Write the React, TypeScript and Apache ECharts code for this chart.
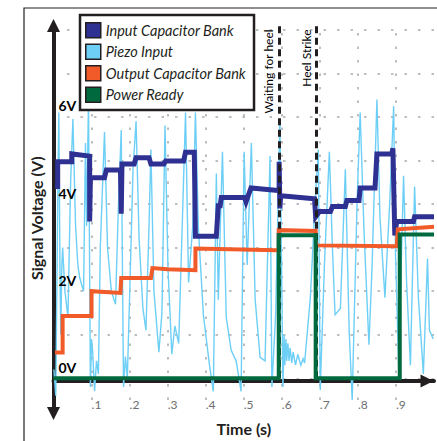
import React, { useEffect, useRef } from 'react';
import * as echarts from 'echarts';

const seriesNames = ['Input Capacitor Bank', 'Piezo Input', 'Output Capacitor Bank', 'Power Ready'];
const seriesColors = ['#2e3192', '#6dcff6', '#f15a29', '#00693e'];

const xTickValues = [0.1, 0.2, 0.3, 0.4, 0.5, 0.6, 0.7, 0.8, 0.9];
const xTickLabels = ['.1', '.2', '.3', '.4', '.5', '.6', '.7', '.8', '.9'];
const yTickValues = [0, 2, 4, 6];
const yTickLabels = ['0V', '2V', '4V', '6V'];

const eventTimes = [0.592, 0.69];
const eventLabels = ['Waiting for heel', 'Heel Strike'];

// [time (s), voltage (V)]
const inputCapacitorBank: [number, number][] = [
  [0.004, 4.4], [0.011, 4.4], [0.011, 4.97], [0.048, 4.97], [0.048, 5.15], [0.095, 5.1],
  [0.095, 3.6], [0.097, 4.6], [0.134, 4.6], [0.139, 4.78], [0.176, 4.78], [0.178, 3.78],
  [0.18, 4.92], [0.212, 4.92], [0.217, 5.06], [0.251, 5.06], [0.256, 4.92], [0.29, 4.92],
  [0.295, 4.99], [0.342, 4.99], [0.347, 5.19], [0.37, 5.19], [0.373, 3.26], [0.428, 3.26],
  [0.433, 3.96], [0.438, 3.96], [0.441, 4.15], [0.502, 4.15], [0.506, 4.05], [0.51, 4.15],
  [0.519, 4.37], [0.59, 4.31], [0.593, 4.31], [0.593, 4.97], [0.595, 3.9], [0.597, 4.19],
  [0.686, 4.12], [0.689, 3.71], [0.699, 3.83], [0.728, 3.83], [0.733, 3.94], [0.767, 3.94],
  [0.771, 4.08], [0.803, 4.08], [0.806, 4.37], [0.845, 4.37], [0.85, 5.15], [0.889, 5.15],
  [0.892, 5.28], [0.897, 3.28], [0.902, 3.6], [0.946, 3.6], [0.949, 3.71], [1.0, 3.71],
];

const piezoInput: [number, number][] = [
  [0.001, 0.2], [0.006, -0.4], [0.012, 4.8], [0.014, 6.1], [0.017, 2.5], [0.019, 1.0],
  [0.022, 2.6], [0.024, 3.0], [0.03, 2.0], [0.038, 1.4], [0.045, 4.5], [0.051, 5.95],
  [0.058, 3.5], [0.064, 2.6], [0.069, 2.3], [0.079, 2.0], [0.084, 5.4], [0.087, 3.5],
  [0.092, 6.4], [0.097, -0.2], [0.1, 0.9], [0.103, 0.6], [0.108, -0.3], [0.113, 0.4],
  [0.118, 0.1], [0.123, 3.0], [0.134, 5.65], [0.142, 3.0], [0.152, 2.0], [0.163, 1.7],
  [0.17, 3.8], [0.178, 5.7], [0.184, -0.2], [0.189, 0.5], [0.194, 0.0], [0.202, 2.5],
  [0.209, 4.8], [0.217, 5.9], [0.225, 3.2], [0.235, 1.6], [0.243, 1.1], [0.251, 3.5],
  [0.256, 5.25], [0.264, 2.0], [0.277, 0.6], [0.285, 1.5], [0.293, 5.8], [0.301, 2.5],
  [0.311, 0.55], [0.319, 1.2], [0.329, 0.8], [0.34, 4.0], [0.347, 6.1], [0.355, 2.2],
  [0.366, 3.5], [0.373, 6.1], [0.381, 3.4], [0.394, 1.45], [0.41, 0.3], [0.42, -0.3],
  [0.428, 4.7], [0.433, 1.8], [0.444, 5.2], [0.454, 1.4], [0.467, 0.64], [0.48, 0.4],
  [0.493, -0.3], [0.501, 5.2], [0.509, 2.6], [0.52, 5.4], [0.53, 1.8], [0.543, 0.48],
  [0.556, 0.4], [0.569, 5.1], [0.574, -0.2], [0.584, 1.5], [0.595, 5.95], [0.603, -0.2],
  [0.606, 1.0], [0.608, 0.3], [0.611, 0.9], [0.613, 0.4], [0.616, 0.8], [0.619, 0.4],
  [0.622, 0.7], [0.626, 0.35], [0.63, 0.6], [0.636, 0.3], [0.642, 0.55], [0.65, 0.3],
  [0.656, 0.45], [0.66, 0.35], [0.675, 1.85], [0.688, 4.1], [0.696, 5.25], [0.701, -0.27],
  [0.712, 2.6], [0.725, 5.2], [0.733, 3.0], [0.74, 1.46], [0.754, 1.6], [0.767, 4.8],
  [0.777, 1.1], [0.785, -0.5], [0.798, 4.1], [0.806, 6.1], [0.816, 3.4], [0.829, 0.77],
  [0.837, 2.5], [0.85, 6.4], [0.858, 3.7], [0.871, 1.85], [0.884, 4.1], [0.894, 6.25],
  [0.899, 2.8], [0.907, 0.3], [0.92, 4.65], [0.928, 2.2], [0.938, 0.3], [0.949, 4.4],
  [0.959, 1.85], [0.972, 0.1], [0.983, 2.75], [0.988, 1.1], [0.998, 0.9],
];

const outputCapacitorBank: [number, number][] = [
  [0.004, 0.59], [0.024, 0.59], [0.024, 1.43], [0.1, 1.43], [0.1, 2.0], [0.176, 1.96],
  [0.178, 2.3], [0.256, 2.3], [0.26, 2.53], [0.3, 2.5], [0.373, 2.48], [0.373, 2.98],
  [0.585, 2.94], [0.592, 2.94], [0.592, 3.4], [0.689, 3.38], [0.69, 3.05], [0.902, 3.03],
  [0.905, 3.42], [1.0, 3.48],
];

const powerReady: [number, number][] = [
  [0.0, 0.0], [0.592, 0.0], [0.592, 3.28], [0.689, 3.28], [0.689, 0.0], [0.91, 0.0],
  [0.91, 3.3], [1.0, 3.3],
];

const FONT = "Lato, 'Noto Sans', sans-serif";
const INK = '#231f20';

export default function App() {
  const ref = useRef<HTMLDivElement>(null);
  useEffect(() => {
    if (!ref.current) return;
    const chart = echarts.init(ref.current, null, { renderer: 'svg' });
    const Y_MIN = -0.75;
    const Y_MAX = 8.1;
    const PX_PER_V = 43.9;
    const zeroY = 381;
    const gridTop = zeroY - Y_MAX * PX_PER_V;
    const gridHeight = (Y_MAX - Y_MIN) * PX_PER_V;
    const gridBottomPx = gridTop + gridHeight;
    const line = (name: string, data: [number, number][], color: string, width: number, extra: any = {}) => ({
      name,
      type: 'line',
      data,
      color,
      showSymbol: false,
      symbol: 'none',
      lineStyle: { color, width, join: 'miter' },
      ...extra,
    });
    const yLabelFormatter = (v: number) => {
      const i = yTickValues.findIndex((t) => Math.abs(t - v) < 1e-6);
      return i >= 0 ? yTickLabels[i] : '';
    };
    chart.setOption({
      animation: false,
      textStyle: { fontFamily: FONT },
      grid: { left: 53.5, top: gridTop, width: 384, height: gridHeight, containLabel: false },
      legend: {
        data: seriesNames,
        orient: 'vertical',
        left: 80,
        top: 15,
        icon: 'rect',
        itemWidth: 15,
        itemHeight: 15,
        itemGap: 5,
        padding: [7, 8, 7, 5],
        backgroundColor: '#ffffff',
        borderColor: INK,
        borderWidth: 2.5,
        itemStyle: { borderColor: INK, borderWidth: 1.5 },
        textStyle: { fontFamily: FONT, fontStyle: 'italic', fontSize: 14.5, color: INK },
      },
      xAxis: {
        type: 'value',
        min: 0,
        max: 1,
        interval: 0.1,
        name: 'Time (s)',
        nameLocation: 'middle',
        nameGap: 39,
        nameTextStyle: { fontFamily: FONT, fontSize: 16, fontWeight: 'bold', color: INK },
        axisLine: {
          onZero: false,
          lineStyle: { color: INK, width: 4 },
          symbol: ['none', 'triangle'],
          symbolSize: [13, 13],
          symbolOffset: [0, -7],
        },
        offset: -(gridBottomPx - 384),
        axisTick: { show: false },
        axisLabel: {
          margin: 17,
          align: 'left',
          color: '#6d6e71',
          fontSize: 12,
          fontFamily: FONT,
          formatter: (v: number) => {
            const i = xTickValues.findIndex((t) => Math.abs(t - v) < 1e-6);
            return i >= 0 ? xTickLabels[i] : '';
          },
        },
        splitLine: {
          show: true,
          showMinLine: false,
          showMaxLine: false,
          lineStyle: { color: '#a7a9ac', width: 1.5, type: [2.5, 11], dashOffset: 6.4 },
        },
      },
      yAxis: [
        {
          type: 'value',
          min: Y_MIN,
          max: Y_MAX,
          splitNumber: 9,
          name: 'Signal Voltage (V)',
          nameLocation: 'middle',
          nameGap: 9,
          nameTextStyle: { fontFamily: FONT, fontSize: 16, fontWeight: 'bold', color: INK },
          axisLine: {
            show: true,
            onZero: false,
            lineStyle: { color: INK, width: 4 },
            symbol: ['triangle', 'triangle'],
            symbolSize: [13, 13],
            symbolOffset: [-2.5, 0],
          },
          axisTick: { show: false },
          axisLabel: { show: false },
          splitLine: {
            show: true,
            showMinLine: false,
            showMaxLine: false,
            lineStyle: { color: '#a7a9ac', width: 1.5, type: [2.5, 11] },
          },
        },
        {
          type: 'value',
          min: Y_MIN,
          max: Y_MAX,
          splitNumber: 9,
          position: 'left',
          z: 20,
          axisLine: { show: false, onZero: false },
          axisTick: { show: false },
          splitLine: { show: false },
          axisLabel: {
            inside: true,
            margin: 5,
            verticalAlign: 'bottom',
            padding: [0, 0, 4, 0],
            color: '#000',
            fontWeight: 'bold',
            fontSize: 14,
            fontFamily: FONT,
            formatter: yLabelFormatter,
          },
        },
      ],
      graphic: [
        {
          type: 'rect',
          silent: true,
          z: 0,
          shape: { x: 24, y: 8, width: 440, height: 460 },
          style: { fill: 'none', stroke: INK, lineWidth: 1.2 },
        },
      ],
      series: [
        line(seriesNames[1], piezoInput, seriesColors[1], 1.4, { z: 2 }),
        line(seriesNames[0], inputCapacitorBank, seriesColors[0], 5, { z: 3 }),
        line(seriesNames[2], outputCapacitorBank, seriesColors[2], 4, { z: 4 }),
        line(seriesNames[3], powerReady, seriesColors[3], 4, {
          z: 5,
          markLine: {
            silent: true,
            symbol: ['none', 'none'],
            lineStyle: { color: INK, width: 3, type: [7, 4.5] },
            label: {
              show: true,
              position: 'insideEndTop',
              formatter: '{b}',
              fontFamily: FONT,
              fontSize: 12,
              color: '#000',
              distance: 4,
            },
            emphasis: { disabled: true },
            data: eventTimes.map((t, i) => [
              { coord: [t, 0], name: eventLabels[i] },
              { coord: [t, Y_MAX] },
            ]),
          },
        }),
      ],
    });
    return () => chart.dispose();
  }, []);
  return (
    <div
      ref={ref}
      style={{ position: 'absolute', left: 0, top: 0, width: 437, height: 441, background: '#fff' }}
    />
  );
}
